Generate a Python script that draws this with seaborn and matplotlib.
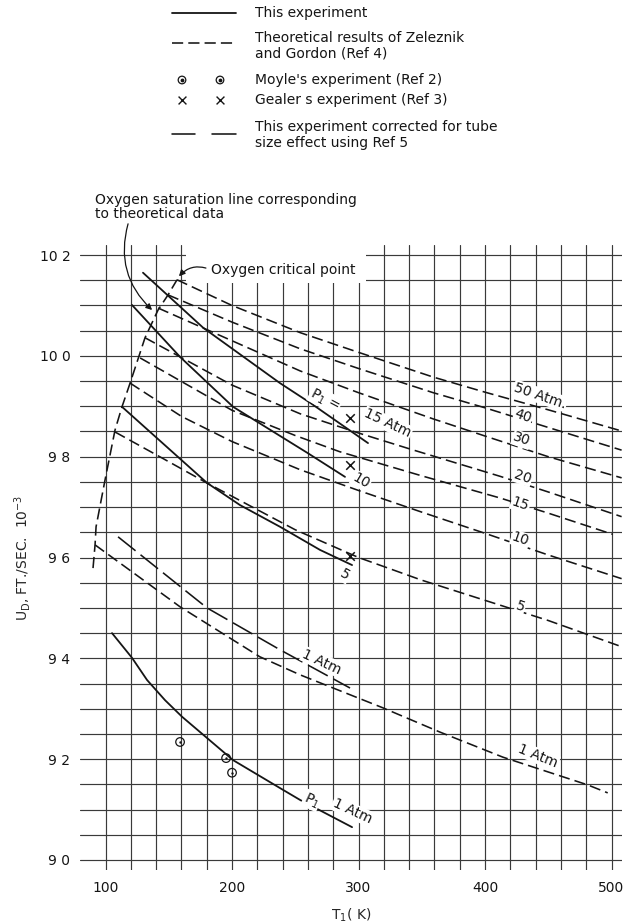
import numpy as np
import matplotlib.pyplot as plt
import seaborn as sns
from matplotlib.lines import Line2D
from matplotlib.patches import Rectangle

# values: T1 in K, U_D in 10^3 ft/sec
# theoretical results of Zeleznik and Gordon (Ref 4)
th50_T = [156.5, 200, 254, 300, 359, 400, 450, 508]
th50_U = [10.151, 10.100, 10.046, 10.007, 9.958, 9.928, 9.893, 9.851]
th40_T = [149.4, 200, 254, 300, 359, 400, 450, 508]
th40_U = [10.121, 10.067, 10.014, 9.975, 9.927, 9.897, 9.858, 9.813]
th30_T = [141.5, 200, 254, 300, 359, 400, 450, 508]
th30_U = [10.095, 10.030, 9.970, 9.927, 9.875, 9.841, 9.800, 9.758]
th20_T = [131.2, 200, 254, 300, 341, 412, 450, 508]
th20_U = [10.036, 9.942, 9.885, 9.847, 9.815, 9.761, 9.730, 9.681]
th15_T = [127.3, 200, 250, 285, 350, 412, 450, 501]
th15_U = [9.996, 9.892, 9.842, 9.810, 9.762, 9.718, 9.688, 9.646]
th10_T = [119.4, 160, 200, 254, 300, 350, 400, 450, 508]
th10_U = [9.946, 9.880, 9.830, 9.774, 9.733, 9.690, 9.648, 9.605, 9.558]
th5_T = [107.5, 150, 180, 250, 300, 350, 400, 450, 508]
th5_U = [9.849, 9.790, 9.748, 9.655, 9.600, 9.555, 9.515, 9.475, 9.423]
th1_T = [91.7, 159, 222, 254, 319, 364, 414, 481, 497]
th1_U = [9.625, 9.502, 9.403, 9.367, 9.302, 9.254, 9.204, 9.149, 9.133]

# oxygen saturation line (theoretical data)
sat_T = [90.1, 91.7, 92.5, 99.6, 107.5, 113.0, 119.4, 131.2, 141.5, 149.4, 156.5]
sat_U = [9.579, 9.625, 9.661, 9.754, 9.853, 9.899, 9.946, 10.036, 10.091, 10.121, 10.151]

# this experiment
ex15_T = [129.6, 177.1, 237.9, 261.7, 307.5]
ex15_U = [10.165, 10.056, 9.946, 9.907, 9.827]
ex10_T = [120.9, 158.9, 200.8, 259.3, 289.3]
ex10_U = [10.101, 9.998, 9.899, 9.808, 9.760]
ex5_T = [113.0, 180.2, 206.3, 237.9, 269.6, 294.9]
ex5_U = [9.899, 9.748, 9.704, 9.661, 9.615, 9.585]
ex1_T = [105.1, 120.9, 132.8, 147.0, 160.5, 200.8, 240.3, 253.8, 294.9]
ex1_U = [9.450, 9.401, 9.357, 9.317, 9.284, 9.198, 9.139, 9.119, 9.065]

# this experiment corrected for tube size effect (Ref 5)
co1_T = [109.9, 180.2, 237.9, 293.3]
co1_U = [9.641, 9.500, 9.417, 9.341]

# Moyle (Ref 2) and Gealer (Ref 3)
moyle_T = [158.9, 195.3, 200.0]
moyle_U = [9.234, 9.202, 9.173]
gealer_T = [293.3, 293.3, 293.3]
gealer_U = [9.877, 9.784, 9.603]

x_ticks = [100, 200, 300, 400, 500]
y_ticks = [9.0, 9.2, 9.4, 9.6, 9.8, 10.0, 10.2]
y_labels = ["9 0", "9 2", "9 4", "9 6", "9 8", "10 0", "10 2"]

sns.set_style("white")
plt.rcParams["font.family"] = ["DejaVu Sans"]
plt.rcParams["mathtext.fontset"] = "dejavusans"
plt.rcParams["font.size"] = 10

W, H = 638, 923
ink = "#151515"
grid_ink = "#3a3a3a"
fig = plt.figure(figsize=(W / 100, H / 100), dpi=100)
ax = fig.add_axes([80 / W, 1 - 870 / H, 542 / W, 625 / H])

solid_kw = dict(color=ink, linewidth=1.3)
theo_kw = dict(color=ink, linewidth=1.15, linestyle=(0, (7, 3.2)))
corr_kw = dict(color=ink, linewidth=1.15, linestyle=(0, (14, 4)))

for T, U in [(th50_T, th50_U), (th40_T, th40_U), (th30_T, th30_U), (th20_T, th20_U),
             (th15_T, th15_U), (th10_T, th10_U), (th5_T, th5_U), (th1_T, th1_U),
             (sat_T, sat_U)]:
    sns.lineplot(x=T, y=U, ax=ax, estimator=None, sort=False, **theo_kw)

for T, U in [(ex15_T, ex15_U), (ex10_T, ex10_U), (ex5_T, ex5_U), (ex1_T, ex1_U)]:
    sns.lineplot(x=T, y=U, ax=ax, estimator=None, sort=False, **solid_kw)

sns.lineplot(x=co1_T, y=co1_U, ax=ax, estimator=None, sort=False, **corr_kw)

sns.scatterplot(x=moyle_T, y=moyle_U, ax=ax, marker="o", s=38,
                facecolor="none", edgecolor=ink, linewidth=0.9, zorder=4)
sns.scatterplot(x=moyle_T, y=moyle_U, ax=ax, marker="o", s=3,
                color=ink, edgecolor=ink, linewidth=0, zorder=4)
sns.scatterplot(x=gealer_T, y=gealer_U, ax=ax, marker="x", s=38,
                color=ink, linewidth=1.1, zorder=4)

# grid paper
ax.set_xlim(79.8, 508.3)
ax.set_ylim(8.98, 10.22)
ax.set_xticks(x_ticks)
ax.set_xticks(np.arange(100, 501, 20), minor=True)
ax.set_yticks(y_ticks, y_labels)
ax.set_yticks(np.arange(9.0, 10.21, 0.05), minor=True)
ax.grid(which="both", color=grid_ink, linewidth=0.85)
ax.tick_params(which="both", length=0, labelsize=10, colors=ink)
ax.tick_params(axis="y", pad=7)
ax.tick_params(axis="x", pad=8)
for s in ax.spines.values():
    s.set_visible(False)
ax.set_xlabel(r"T$_1$( K)", fontsize=10, labelpad=8)
ax.set_ylabel(r"U$_\mathrm{D}$, FT./SEC.  10$^{-3}$", fontsize=10, labelpad=5)

# curve labels
wbox = dict(facecolor="white", edgecolor="none", pad=0.6)
labels = [("50 Atm.", 443.5, 9.921, -19), ("40", 430, 9.880, -19), ("30", 429, 9.834, -19),
          ("20", 430, 9.760, -19), ("15", 428, 9.706, -19), ("10", 428, 9.636, -19),
          ("5", 428, 9.503, -19), ("1 Atm", 442, 9.206, -22), ("1 Atm", 271, 9.393, -25),
          ("P$_1$ =", 273.5, 9.913, -28), ("15 Atm", 323, 9.866, -25), ("10", 302, 9.752, -30),
          ("5", 289.3, 9.565, -30), ("P$_1$", 263, 9.118, -25), ("1 Atm", 295, 9.097, -25)]
for txt, T, U, rot in labels:
    ax.text(T, U, txt, rotation=rot, ha="center", va="center", fontsize=10,
            color=ink, bbox=wbox, zorder=3, rotation_mode="anchor")

# gap in the grid behind the critical point note
ax.add_patch(Rectangle((163.6, 10.145), 142.3, 0.08, facecolor="white",
                       edgecolor="none", zorder=1))
ax.annotate("Oxygen critical point", xy=(158.0, 10.158), xytext=(183.0, 10.171),
            ha="left", va="center", fontsize=10, color=ink, zorder=3,
            arrowprops=dict(arrowstyle="-|>", connectionstyle="arc3,rad=0.35",
                            color=ink, lw=0.9, mutation_scale=9, relpos=(0, 0.5),
                            shrinkA=1, shrinkB=0))
ax.annotate("", xy=(136.8, 10.091), xytext=(117.8, 10.262), annotation_clip=False,
            arrowprops=dict(arrowstyle="-|>", connectionstyle="arc3,rad=0.3",
                            color=ink, lw=0.9, mutation_scale=9, shrinkA=0, shrinkB=0))

# legend drawn on a pixel overlay
lax = fig.add_axes([0, 0, 1, 1])
lax.set_xlim(0, W)
lax.set_ylim(H, 0)
lax.axis("off")
lax.set_zorder(-1)

x0, x1, xt = 172, 236, 255
lax.add_line(Line2D([x0, x1], [13, 13], **solid_kw))
lax.add_line(Line2D([x0, x1], [43, 43], **theo_kw))
lax.add_line(Line2D([x0, 195], [134, 134], color=ink, linewidth=1.15))
lax.add_line(Line2D([212, x1], [134, 134], color=ink, linewidth=1.15))
lax.scatter([182, 220], [80, 80], s=30, facecolor="none", edgecolor=ink, linewidth=0.9)
lax.scatter([182, 220], [80, 80], s=3, color=ink)
lax.scatter([182, 220], [100, 100], s=32, marker="x", color=ink, linewidth=1.0)

legend_rows = [("This experiment", 13), ("Theoretical results of Zeleznik\nand Gordon (Ref 4)", 46),
               ("Moyle's experiment (Ref 2)", 80), ("Gealer s experiment (Ref 3)", 100),
               ("This experiment corrected for tube\nsize effect using Ref 5", 135)]
for txt, y in legend_rows:
    lax.text(xt, y, txt, ha="left", va="center", fontsize=10, color=ink, linespacing=1.15)

lax.text(95, 207, "Oxygen saturation line corresponding\nto theoretical data",
         ha="left", va="center", fontsize=10, color=ink, linespacing=1.05)

fig.savefig("out.png", dpi=100)
